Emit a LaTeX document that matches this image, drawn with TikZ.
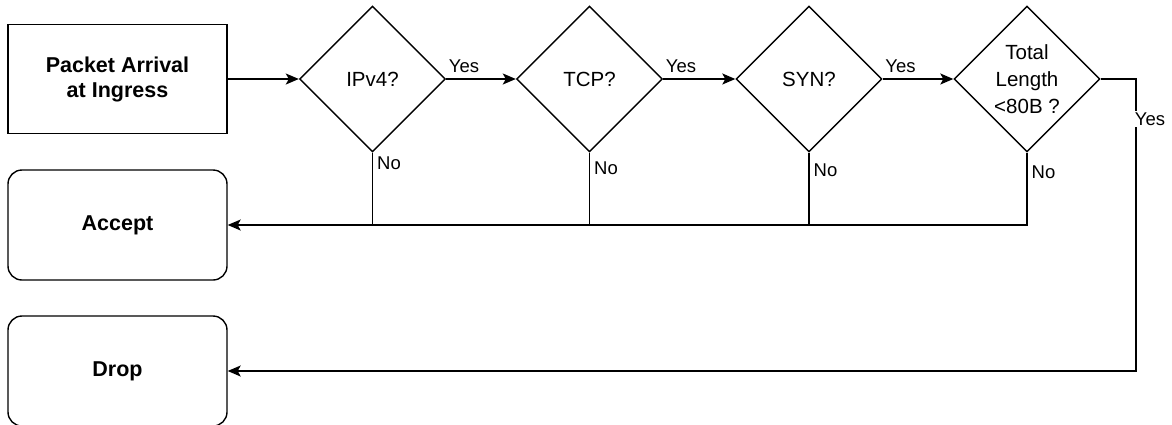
\documentclass[tikz,border=0pt]{standalone}
\usepackage{fontspec}
\setmainfont{Liberation Sans}
\usetikzlibrary{arrows.meta,shapes.geometric}
\begin{document}
\begin{tikzpicture}[x=1pt,y=-1pt,line width=1.4pt,
  box/.style={draw, minimum width=219pt, minimum height=109pt, inner sep=0pt,
    font=\fontsize{21.5}{25}\selectfont\bfseries, align=center},
  rbox/.style={box, rounded corners=14pt, minimum height=110pt},
  dec/.style={draw, diamond, aspect=1, minimum width=146pt, minimum height=146pt,
    inner sep=0pt, font=\fontsize{20.5}{27}\selectfont, align=center},
  lbl/.style={font=\fontsize{18.5}{22}\selectfont, inner sep=1pt},
  arr/.style={-{Stealth[length=13pt,width=11pt,inset=3pt]}}]
\useasboundingbox (0,0) rectangle (1172,424);
\node[box]  (pkt)  at (117.5,79)  {Packet Arrival\\at Ingress};
\node[rbox] (acc)  at (117.5,225) {Accept};
\node[rbox] (drop) at (117.5,371) {Drop};
\node[dec] (d1) at (372.5,79) {IPv4?};
\node[dec] (d2) at (589.5,79) {TCP?};
\node[dec] (d3) at (809,79)   {SYN?};
\node[dec] (d4) at (1027,79)  {Total\\Length\\<80B ?};
\coordinate (yc) at (1136,79);
\draw[arr] (pkt.east) -- (d1.west);
\draw[arr] (d1.east) -- (d2.west);
\draw[arr] (d2.east) -- (d3.west);
\draw[arr] (d3.east) -- (d4.west);
\node[lbl, anchor=south west] (y1) at ([shift={(1,-5)}]d1.east) {Yes};
\node[lbl, anchor=south west] (y2) at ([shift={(1,-5)}]d2.east) {Yes};
\node[lbl, anchor=south west] (y3) at ([shift={(1,-5)}]d3.east) {Yes};
\draw[arr] (d4.south) |- (acc.east);
\draw (d1.south) -- (d1.south |- acc.east);
\draw (d2.south) -- (d2.south |- acc.east);
\draw (d3.south) -- (d3.south |- acc.east);
\node[lbl, anchor=north west] (n1) at ([shift={(3,2)}]d1.south) {No};
\node[lbl, anchor=north west] (n2) at ([shift={(3,7)}]d2.south) {No};
\node[lbl, anchor=north west] (n3) at ([shift={(3,9)}]d3.south) {No};
\node[lbl, anchor=north west] (n4) at ([shift={(3,11)}]d4.south) {No};
\draw[arr] (d4.east) -- (yc) |- (drop.east);
\node[lbl, fill=white, inner sep=2pt] (y4) at (1150,119) {Yes};
\end{tikzpicture}
\end{document}
